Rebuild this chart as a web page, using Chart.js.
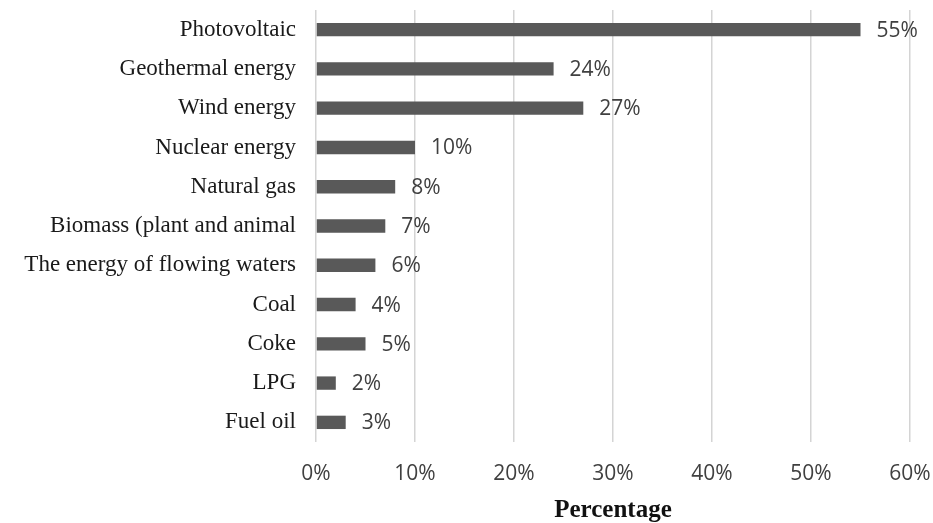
<!DOCTYPE html>
<html>
<head>
<meta charset="utf-8">
<script src="https://cdn.jsdelivr.net/npm/chart.js@4.4.1/dist/chart.umd.min.js"></script>
<style>
  html, body { margin: 0; padding: 0; background: #ffffff; }
  #wrap { width: 933px; height: 523px; position: relative; }
</style>
</head>
<body>
<div id="wrap"><canvas id="chart"></canvas></div>
<script>
// Energy sources and their share (percent)
const categories = [
  'Photovoltaic',
  'Geothermal energy',
  'Wind energy',
  'Nuclear energy',
  'Natural gas',
  'Biomass (plant and animal',
  'The energy of flowing waters',
  'Coal',
  'Coke',
  'LPG',
  'Fuel oil'
];
const shares = [55, 24, 27, 10, 8, 7, 6, 4, 5, 2, 3];
const tickValues = [0, 10, 20, 30, 40, 50, 60];
const axisTitle = 'Percentage';

// Writes the percentage just past the end of each bar
const valueLabels = {
  id: 'valueLabels',
  afterDatasetsDraw(chart) {
    const ctx = chart.ctx;
    const meta = chart.getDatasetMeta(0);
    ctx.save();
    ctx.font = '21px "Open Sans", sans-serif';
    ctx.fillStyle = '#404040';
    ctx.textAlign = 'left';
    ctx.textBaseline = 'middle';
    meta.data.forEach((bar, i) => {
      ctx.fillText(shares[i] + '%', bar.x + 16, bar.y + 1);
    });
    ctx.restore();
  }
};

new Chart(document.getElementById('chart'), {
  type: 'bar',
  data: {
    labels: categories,
    datasets: [{
      data: shares,
      backgroundColor: '#595959',
      borderWidth: 0,
      categoryPercentage: 1,
      barPercentage: 0.34
    }]
  },
  options: {
    indexAxis: 'y',
    responsive: true,
    maintainAspectRatio: false,
    animation: false,
    layout: { padding: { top: 10, right: 23, left: 0, bottom: 0 } },
    plugins: {
      legend: { display: false },
      tooltip: { enabled: false }
    },
    scales: {
      x: {
        min: 0,
        max: 60,
        afterBuildTicks(scale) {
          scale.ticks = tickValues.map(v => ({ value: v }));
        },
        afterFit(scale) {
          scale.height = 81;
          scale.paddingLeft = 0;
          scale.paddingRight = 0;
        },
        border: { display: false },
        grid: {
          color: '#d4d4d4',
          lineWidth: 1.5,
          drawTicks: false
        },
        ticks: {
          padding: 19,
          color: '#404040',
          font: { family: '"Open Sans", sans-serif', size: 21 },
          callback: v => v + '%'
        },
        title: {
          display: true,
          text: axisTitle,
          color: '#111111',
          padding: 0,
          font: { family: '"Liberation Serif", "Times New Roman", serif', size: 25, weight: 'bold', lineHeight: 1.0 }
        }
      },
      y: {
        afterFit(scale) {
          scale.width = 316;
          scale.paddingTop = 0;
          scale.paddingBottom = 0;
        },
        border: { display: false },
        grid: { display: false, drawTicks: false },
        ticks: {
          padding: 20,
          color: '#1a1a1a',
          font: { family: '"Liberation Serif", "Times New Roman", serif', size: 23 }
        }
      }
    }
  },
  plugins: [valueLabels]
});
</script>
</body>
</html>
